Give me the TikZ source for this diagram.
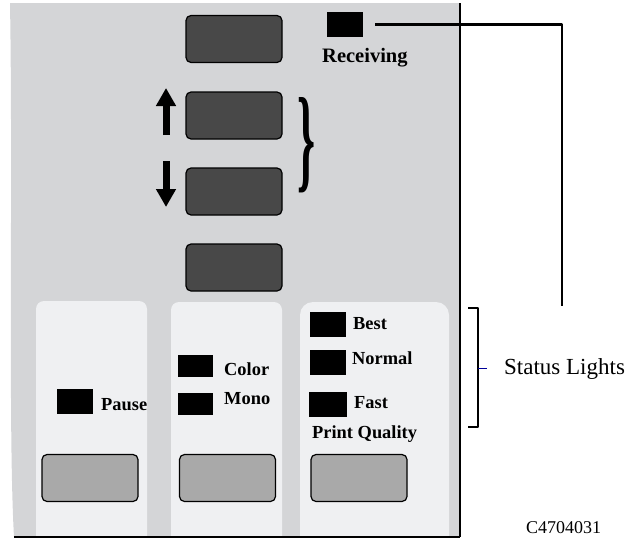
\documentclass[tikz,border=0pt]{standalone}
\usepackage{fontspec}
\setmainfont{Liberation Serif}
\usetikzlibrary{arrows.meta,positioning}
\definecolor{panelgray}{HTML}{D4D5D7}
\definecolor{padgray}{HTML}{EFF0F2}
\definecolor{keydark}{HTML}{484848}
\definecolor{keylight}{HTML}{A9A9A9}
\def\keyx{234}

\begin{document}
\begin{tikzpicture}[x=1pt,y=-1pt,line join=round]
		\tikzstyle{key}=[draw=black,line width=1.2pt,rounded corners=5pt,minimum width=96pt,minimum height=47pt,inner sep=0pt]
		\tikzstyle{dark key}=[key,fill=keydark]
		\tikzstyle{light key}=[key,fill=keylight]
		\tikzstyle{led}=[fill=black,minimum width=36pt,minimum height=25pt,inner sep=0pt]
		\tikzstyle{small led}=[led,minimum width=35pt,minimum height=22pt]
		\tikzstyle{lbl}=[font=\fontsize{18.4}{20}\selectfont\bfseries,inner sep=0pt,anchor=base west]
		\tikzstyle{pad}=[fill=padgray]
		\tikzstyle{lead}=[line width=2.5pt]
		\tikzstyle{bigarrow}=[line width=7pt,-{Triangle[width=19pt,length=18pt]}]
		
		\useasboundingbox (0,0) rectangle (634,538);
		
		% Draw the panel
		\fill[panelgray] (10,3) -- (460,3) -- (460,537) -- (14,537)
		.. controls (8,430) and (13,180) .. (10,3);
		\fill[pad] (36,537) {[rounded corners=8pt] -- (36,301) -- (147,301)} -- (147,537) -- cycle;
		\fill[pad] (171,537) {[rounded corners=8pt] -- (171,302) -- (282,302)} -- (282,537) -- cycle;
		\fill[pad] (300,537) {[rounded corners=13pt] -- (300,302) -- (449,302)} -- (449,537) -- cycle;
		\draw[line width=1.5pt] (460,3) -- (460,537);
		\draw[line width=2pt] (14,537) -- (460,537);
		
		% Draw the dark keys
		\foreach \name / \y in {1/39,2/115.5,3/191.5,4/267.5}
		\node[dark key] (K-\name) at (\keyx,\y) {};
		
		\draw[bigarrow] (166,135) -- (166,88);
		\draw[bigarrow] (166,161) -- (166,207);
		\node[inner sep=0pt,font=\bfseries] (brace) at (306.5,145) {\resizebox{18pt}{80pt}{\}}};
		
		% Draw the light keys
		\foreach \name / \x in {1/90,2/227.5,3/359}
		\node[light key] (L-\name) at (\x,478) {};
		
		% Status lights
		\node[led] (rec) at (345,24.5) {};
		\node[lbl,font=\fontsize{20.5}{22}\selectfont\bfseries] (rec-l) at (322,62) {Receiving};
		
		\node[led] (pause) at (75,401.5) {};
		\node[lbl] (pause-l) at (101,410) {Pause};
		
		\node[small led] (color) at (195.5,366) {};
		\node[lbl] (color-l) at (224,375) {Color};
		\node[small led] (mono) at (195.5,404) {};
		\node[lbl] (mono-l) at (224,404) {Mono};
		
		\node[led] (best) at (328,324.5) {};
		\node[lbl] (best-l) at (353,329) {Best};
		\node[led] (normal) at (328,362.5) {};
		\node[lbl] (normal-l) at (352,364) {Normal};
		\node[led,minimum width=38pt] (fast) at (328,404.5) {};
		\node[lbl] (fast-l) at (354,408) {Fast};
		\node[lbl] (pq) at (312,438) {Print Quality};
		
		% Annotate the lights
		\coordinate (lead-end) at (562,306);
		\draw[lead,shorten <=12pt] (rec.east) -| (lead-end);
		
		\draw[line width=2pt] (468,308) -- (478,308) -- (478,427) -- (468,427);
		\coordinate (brk) at (478,368);
		\node[font=\fontsize{23}{25}\selectfont,inner sep=0pt,anchor=base west] (stat) at (504,374) {Status Lights};
		\draw[blue!60!black,line width=1pt,shorten >=17pt] (brk) -- (brk -| stat.west);
		
		\node[font=\fontsize{18}{20}\selectfont,inner sep=0pt,anchor=base west] (fig) at (526,533) {C4704031};
\end{tikzpicture}
\end{document}
